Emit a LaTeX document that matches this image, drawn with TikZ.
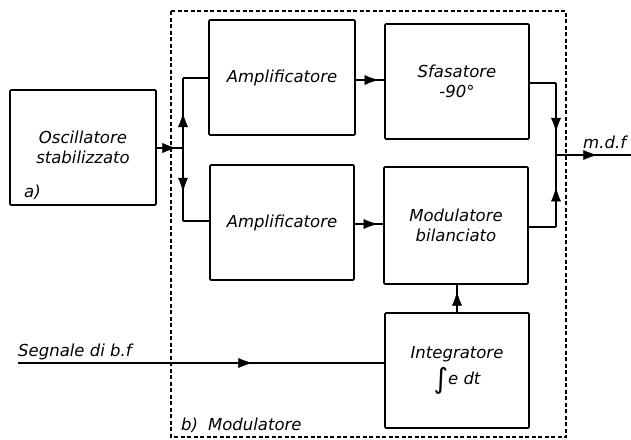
\documentclass[tikz,border=0pt]{standalone}
\usepackage{fontspec}
\setmainfont{DejaVu Sans}
\usetikzlibrary{arrows.meta,decorations.markings}
\tikzset{
  blk/.style={draw, line width=1.6pt, rounded corners=1pt, minimum width=144pt, minimum height=115pt, inner sep=0pt, align=center, font=\fontsize{16.5}{20}\selectfont\itshape},
  conn/.style={line width=2.2pt},
  arrat/.style={postaction={decorate}, decoration={markings, mark=at position #1 with {\arrow[line width=0.5pt]{Latex[length=14pt,width=10pt]}}}},
  lbl/.style={inner sep=0pt, font=\fontsize{16.5}{20}\selectfont\itshape},
  frame/.style={dashed, dash pattern=on 4pt off 2.5pt, line width=1.1pt}
}
\begin{document}
\begin{tikzpicture}[x=1pt,y=-1pt]
\useasboundingbox (0,0) rectangle (631,439);
% dashed frame
\draw[frame] (171,11) rectangle (566,437);
% blocks
\node[blk, minimum width=146pt] (osc) at (83,147.5) {\raisebox{-8pt}{\parbox{140pt}{\centering Oscillatore\\stabilizzato}}};
\node[lbl, anchor=west] (la) at (24,192) {a)};
\node[blk, minimum width=146pt] (amp1) at (282,77.5) {Amplificatore};
\node[blk] (sfas) at (457,81.5) {Sfasatore\\-90°};
\node[blk] (amp2) at (282,222.5) {Amplificatore};
\node[blk, minimum height=117pt] (mod) at (456,225.5) {Modulatore\\bilanciato};
\node[blk] (integ) at (457,370.5) {Integratore\\[4pt]{\fontsize{28}{28}\selectfont\raisebox{-4pt}{∫}}e dt};
% labels
\node[lbl, anchor=base west] (lsig) at (18,356) {Segnale di b.f};
\node[lbl, anchor=base west] (lmdf) at (583,148) {m.d.f};
\node[lbl, anchor=base west] (lb) at (181,430) {b)\hspace{10pt}Modulatore};
% coordinates
\coordinate (j1) at (183,148);
\coordinate (b1) at (183,78);
\coordinate (b2) at (183,221);
\coordinate (k) at (556,155);
\coordinate (out) at (631,155);
\coordinate (sig) at (18,363);
% connectors
\draw[conn, arrat=0.75] (osc.east|-j1) -- (j1);
\draw[conn, arrat=0.5] (j1) -- (b1);
\draw[conn] (b1) -- (amp1.west|-b1);
\draw[conn, arrat=0.6] (j1) -- (b2);
\draw[conn] (b2) -- (amp2.west|-b2);
\draw[conn, arrat=0.8] (amp1.east|-0,80) -- (sfas.west|-0,80);
\draw[conn, arrat=0.8] (amp2.east|-0,224) -- (mod.west|-0,224);
\draw[conn] (sfas.east|-0,83) -- (k|-0,83);
\draw[conn, arrat=0.68] (k|-0,83) -- (k);
\draw[conn] (mod.east|-0,227) -- (k|-0,227);
\draw[conn, arrat=0.55] (k|-0,227) -- (k);
\draw[conn, arrat=0.55] (k) -- (out);
\draw[conn, arrat=0.75] (integ.north) -- (integ.north|-mod.south);
\draw[conn, arrat=0.64] (sig) -- (integ.west|-sig);
\end{tikzpicture}
\end{document}
